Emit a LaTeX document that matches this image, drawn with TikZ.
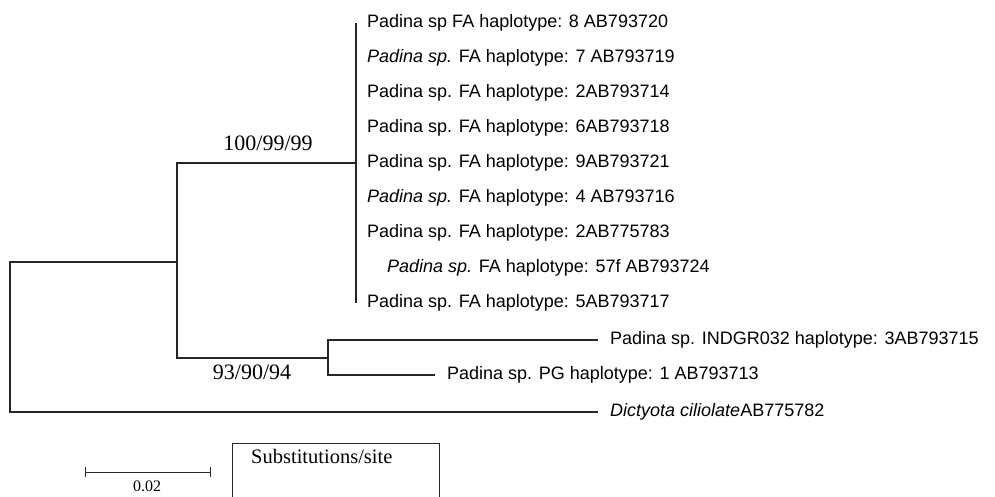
\documentclass[tikz,border=0pt]{standalone}
\usepackage{fontspec}
\setmainfont{Liberation Sans}
\newfontfamily\tnr{Liberation Serif}
\usetikzlibrary{arrows.meta}

\begin{document}
\begin{tikzpicture}[x=1pt,y=-1pt,
        branch/.style={line width=1.3pt, black!85},
        tip/.style={anchor=west, inner sep=0pt, font=\fontsize{18}{20}\selectfont},
        boot/.style={inner sep=0pt, font=\tnr\fontsize{22}{24}\selectfont}]
        \useasboundingbox (0,0) rectangle (995,497);
        % internal nodes of the tree
        \coordinate (root) at (10,337);
        \coordinate (nIn)  at (177,262);
        \coordinate (nFA)  at (356,163);
        \coordinate (nLow) at (328,358);
        \coordinate (fa1)  at (356,23);
        \coordinate (fa9)  at (356,303);
        \coordinate (tInd) at (598,340);
        \coordinate (tPG)  at (435,375);
        \coordinate (tDic) at (598,412);
        \draw[branch](root) |- (nIn);
        \draw[branch](root) |- (tDic);
        \draw[branch](nIn) |- (nFA);
        \draw[branch](nIn) |- (nLow);
        \draw[branch](fa1) -- (fa9);
        \draw[branch](nLow) |- (tInd);
        \draw[branch](nLow) |- (tPG);
        % taxa
        \node[tip] (fa1Lab) at (367,23) {Padina sp FA haplotype: 8 AB793720};
        \node[tip] (fa2Lab) at (367,58) {\textit{Padina sp.} FA haplotype: 7 AB793719};
        \node[tip] (fa3Lab) at (367,93) {Padina sp. FA haplotype: 2AB793714};
        \node[tip] (fa4Lab) at (367,128) {Padina sp. FA haplotype: 6AB793718};
        \node[tip] (fa5Lab) at (367,163) {Padina sp. FA haplotype: 9AB793721};
        \node[tip] (fa6Lab) at (367,198) {\textit{Padina sp.} FA haplotype: 4 AB793716};
        \node[tip] (fa7Lab) at (367,233) {Padina sp. FA haplotype: 2AB775783};
        \node[tip] (fa8Lab) at (387,268) {\textit{Padina sp.} FA haplotype: 57f AB793724};
        \node[tip] (fa9Lab) at (367,303) {Padina sp. FA haplotype: 5AB793717};
        \node[tip] (indLab) at (610,340) {Padina sp. INDGR032 haplotype: 3AB793715};
        \node[tip] (pgLab)  at (447,375) {Padina sp. PG haplotype: 1 AB793713};
        \node[tip] (dicLab) at (610,412) {\textit{Dictyota ciliolate}AB775782};
        % support values
        \node[boot] (bsFA)  at (268,143) {100/99/99};
        \node[boot] (bsLow) at (252,372) {93/90/94};
        % scale
        \coordinate (sbL) at (85,472);
        \coordinate (sbR) at (211,472);
        \draw[{Bar[width=10pt]}-{Bar[width=10pt]}, line width=1pt, black!85](sbL) -- (sbR);
        \node[inner sep=0pt, font=\tnr\fontsize{16}{18}\selectfont] (sbLab) at (147,486) {0.02};
        \draw[line width=1pt, black!85](232,497) |- (439,443) -- (439,497);
        \node[anchor=west, inner sep=0pt, font=\tnr\fontsize{20.5}{22}\selectfont] (unitLab) at (251,456) {Substitutions/site};
    \end{tikzpicture}
\end{document}
